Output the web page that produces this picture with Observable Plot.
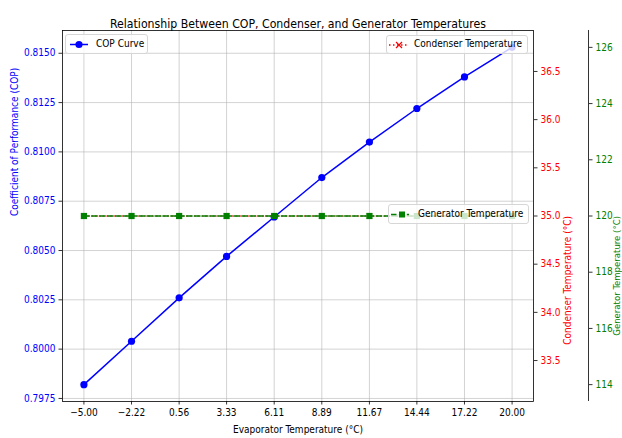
<!DOCTYPE html>
<html><head><meta charset="utf-8">
<script src="https://cdn.jsdelivr.net/npm/d3@7"></script>
<script src="https://cdn.jsdelivr.net/npm/@observablehq/plot@0.6"></script>
<style>
body{margin:0;background:#fff;}
#wrap{position:relative;width:622px;height:438px;overflow:hidden;font-family:"DejaVu Sans",sans-serif;}
#wrap svg text{font-stretch:condensed;}
.leg{position:absolute;background:rgba(255,255,255,0.8);border:1px solid #d6d6d6;border-radius:3px;box-sizing:border-box;font-size:10px;font-stretch:condensed;color:#000;}
.leg svg{position:absolute;left:0;top:0;}
.leg span{position:absolute;white-space:nowrap;line-height:1;}
</style></head><body><div id="wrap"></div>
<script>
const title = "Relationship Between COP, Condenser, and Generator Temperatures";
const xLabel = "Evaporator Temperature (°C)";
const copLabel = "Coefficient of Performance (COP)";
const condLabel = "Condenser Temperature (°C)";
const genLabel = "Generator Temperature (°C)";
const seriesNames = ["COP Curve", "Condenser Temperature", "Generator Temperature"];

const evapTemps = [-5.00, -2.22, 0.56, 3.33, 6.11, 8.89, 11.67, 14.44, 17.22, 20.00];
const copValues = [0.7982, 0.8004, 0.8026, 0.8047, 0.8067, 0.8087, 0.8105, 0.8122, 0.8138, 0.8153];
const condenserTemps = [35, 35, 35, 35, 35, 35, 35, 35, 35, 35];
const generatorTemps = [120, 120, 120, 120, 120, 120, 120, 120, 120, 120];

const xTicks = evapTemps;
const copTicks = [0.7975, 0.8000, 0.8025, 0.8050, 0.8075, 0.8100, 0.8125, 0.8150];
const condTicks = [33.5, 34.0, 34.5, 35.0, 35.5, 36.0, 36.5];
const genTicks = [114, 116, 118, 120, 122, 124, 126];

// matplotlib-like autoscale (nonsingular expansion + 5% margins)
function autoDomain(vals) {
  let lo = d3.min(vals), hi = d3.max(vals);
  if (lo === hi) { lo -= Math.abs(lo) * 0.05 || 1; hi += Math.abs(hi) * 0.05 || 1; }
  const m = (hi - lo) * 0.05;
  return [lo - m, hi + m];
}
const xDomain = autoDomain(evapTemps);
const copDomain = autoDomain(copValues);
const condDomain = autoDomain(condenserTemps);
const genDomain = autoDomain(generatorTemps);
const condToY = d3.scaleLinear(condDomain, copDomain);
const genToY = d3.scaleLinear(genDomain, copDomain);

const rows = evapTemps.map((x, i) => ({
  x, cop: copValues[i], cond: condToY(condenserTemps[i]), gen: genToY(generatorTemps[i])
}));

const gridStyle = {stroke: "#b0b0b0", strokeOpacity: 0.7, strokeWidth: 0.8};
const axisCommon = {tickSize: 3.5, tickPadding: 3.5, label: null, stroke: "black", strokeWidth: 0.8, fontSize: 10};

const plot = Plot.plot({
  width: 622, height: 438,
  marginLeft: 62, marginRight: 89, marginTop: 30, marginBottom: 37,
  style: {fontFamily: '"DejaVu Sans", sans-serif', fontSize: "10px", background: "white", overflow: "visible"},
  x: {domain: xDomain},
  y: {domain: copDomain},
  marks: [
    Plot.gridX(xTicks, gridStyle),
    Plot.gridY(copTicks, gridStyle),
    Plot.line(rows, {x: "x", y: "cop", stroke: "blue", strokeWidth: 1.5}),
    Plot.dot(rows, {x: "x", y: "cop", fill: "blue", r: 3.6}),
    Plot.line(rows, {x: "x", y: "cond", stroke: "red", strokeWidth: 1.2, strokeDasharray: "1.2,2.6"}),
    Plot.dot(rows, {x: "x", y: "cond", symbol: "times", stroke: "red", strokeWidth: 1, r: 2.2}),
    Plot.line(rows, {x: "x", y: "gen", stroke: "green", strokeWidth: 1.5, strokeDasharray: "5.5,2.4"}),
    Plot.dot(rows, {x: "x", y: "gen", symbol: "square", fill: "green", r: 3.5}),
    Plot.frame({stroke: "black", strokeWidth: 0.8}),
    Plot.axisX(xTicks, {...axisCommon, anchor: "bottom", tickFormat: d3.format(".2f"), fill: "black"}),
    Plot.axisY(copTicks, {...axisCommon, anchor: "left", tickFormat: d3.format(".4f"), fill: "blue"}),
    Plot.axisY(condTicks.map(condToY), {...axisCommon, anchor: "right", fill: "red",
      tickFormat: d => d3.format(".1f")(condToY.invert(d))}),
    Plot.axisY(genTicks.map(genToY), {...axisCommon, anchor: "right", dx: 55, fill: "green",
      tickFormat: d => d3.format(".0f")(genToY.invert(d))}),
    Plot.ruleX([xDomain[1]], {dx: 55, stroke: "black", strokeWidth: 0.8}),
    Plot.text([title], {text: d => d, frameAnchor: "top", dy: -12.2, textAnchor: "middle", fontSize: 13, fill: "black"}),
    Plot.text([xLabel], {text: d => d, frameAnchor: "bottom", dy: 31, fontSize: 10, fill: "black"}),
    Plot.text([copLabel], {text: d => d, frameAnchor: "left", dx: -48, rotate: -90, fontSize: 10, fill: "blue"}),
    Plot.text([condLabel], {text: d => d, frameAnchor: "right", dx: 34, rotate: -90, fontSize: 10, fill: "red"}),
    Plot.text([genLabel], {text: d => d, frameAnchor: "right", dx: 83.5, rotate: -90, fontSize: 9.5, fill: "green"})
  ]
});
const wrap = document.getElementById("wrap");
wrap.appendChild(plot);
plot.querySelectorAll("text").forEach(t => {
  if (t.textContent === title) { t.setAttribute("textLength", 376); t.setAttribute("lengthAdjust", "spacingAndGlyphs"); }
});

// legends (HTML overlays)
function legend(left, top, w, h, handle, textLeft, label) {
  const div = document.createElement("div");
  div.className = "leg";
  Object.assign(div.style, {left: left + "px", top: top + "px", width: w + "px", height: h + "px"});
  div.innerHTML = `<svg width="${w}" height="${h}">${handle}</svg><span style="left:${textLeft}px;top:${(h - 2 - 10) / 2 - 0.5}px">${label}</span>`;
  wrap.appendChild(div);
}
legend(65, 34, 83, 20,
  `<line x1="4" x2="22" y1="9.5" y2="9.5" stroke="blue" stroke-width="1.5"/><circle cx="13" cy="9.5" r="3.6" fill="blue"/>`,
  30, seriesNames[0]);
legend(386, 35, 142, 19,
  `<line x1="2" x2="21" y1="9" y2="9" stroke="red" stroke-width="1.5" stroke-dasharray="1.5,2.5"/><path d="M9,6L15,12M15,6L9,12" stroke="red" stroke-width="1.2"/>`,
  27, seriesNames[1]);
legend(388, 204, 141, 20,
  `<line x1="2" x2="20" y1="9.5" y2="9.5" stroke="green" stroke-width="1.5" stroke-dasharray="5.5,2.4"/><rect x="10" y="6.5" width="6" height="6" fill="green"/>`,
  29, seriesNames[2]);
</script></body></html>
